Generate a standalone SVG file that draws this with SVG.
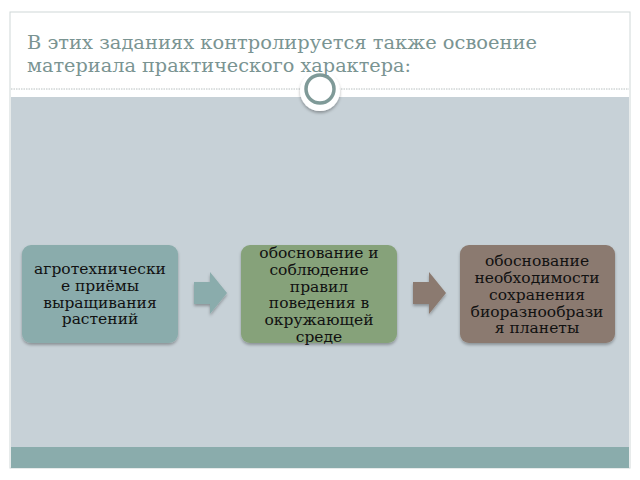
<svg xmlns="http://www.w3.org/2000/svg" width="640" height="480" viewBox="0 0 640 480">
<defs>
<style>
.t{font-family:"DejaVu Serif",serif;font-size:15.5px;fill:#111;text-anchor:middle}
.h{font-family:"DejaVu Serif",serif;font-size:19px;fill:#7a9492}
</style>
<filter id="sh" x="-10%" y="-10%" width="120%" height="130%"><feDropShadow dx="0" dy="2" stdDeviation="1.5" flood-color="#000" flood-opacity="0.3"/></filter>
</defs>
<rect width="640" height="480" fill="#fff"/>
<rect x="10" y="12" width="620" height="456" fill="#fff" stroke="#d0d8d8"/>
<rect x="11" y="97" width="618" height="350" fill="#c7d1d7"/>
<rect x="11" y="447" width="618" height="21" fill="#8aacac"/>
<line x1="11" y1="89" x2="629" y2="89" stroke="#b8c0c0" stroke-dasharray="1.5,1"/>
<circle cx="320" cy="91" r="20" fill="#fff" filter="url(#sh)"/>
<circle cx="320" cy="89" r="14" fill="none" stroke="#7f9a98" stroke-width="3.5"/>
<text class="h" x="27" y="49" textLength="510" lengthAdjust="spacingAndGlyphs">В этих заданиях контролируется также освоение</text>
<text class="h" x="27" y="72" textLength="384" lengthAdjust="spacingAndGlyphs">материала практического характера:</text>
<g id="n1"><rect x="22" y="245" width="156" height="98" rx="9" fill="#8aacac" filter="url(#sh)"/>
<text class="t" x="100" y="274">агротехнически</text><text class="t" x="100" y="291">е приёмы</text><text class="t" x="100" y="308">выращивания</text><text class="t" x="100" y="324">растений</text></g>
<g id="n2"><rect x="241" y="245" width="156" height="98" rx="9" fill="#86a27a" filter="url(#sh)"/>
<text class="t" x="319" y="258">обоснование и</text><text class="t" x="319" y="275">соблюдение</text><text class="t" x="319" y="292">правил</text><text class="t" x="319" y="308">поведения в</text><text class="t" x="319" y="325">окружающей</text><text class="t" x="319" y="342">среде</text></g>
<g id="n3"><rect x="460" y="245" width="155" height="98" rx="9" fill="#8b7a6f" filter="url(#sh)"/>
<text class="t" x="537" y="266">обоснование</text><text class="t" x="537" y="283">необходимости</text><text class="t" x="537" y="300">сохранения</text><text class="t" x="537" y="317">биоразнообрази</text><text class="t" x="537" y="333">я планеты</text></g>
<g id="connectors">
<polygon points="194,282 210,282 210,272 227,293 210,314 210,304 194,304" fill="#8aacac" filter="url(#sh)"/>
<polygon points="413,282 429,282 429,272 446,293 429,314 429,304 413,304" fill="#8b7a6f" filter="url(#sh)"/>
</g>
</svg>
